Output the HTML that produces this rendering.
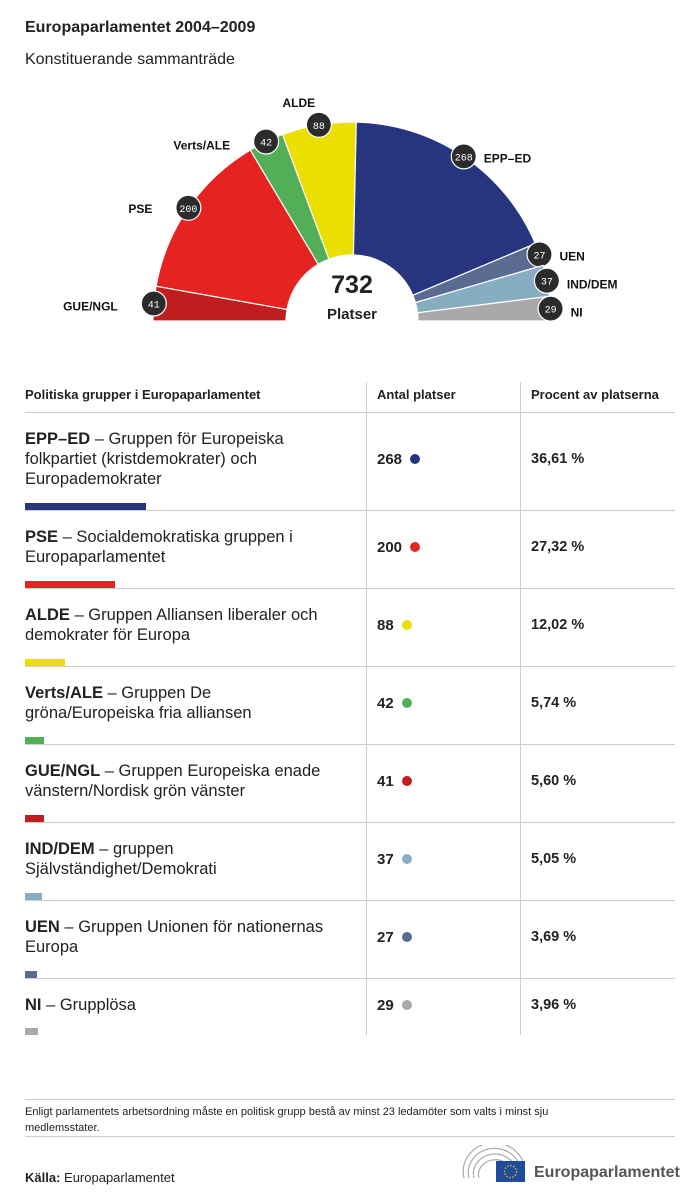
<!DOCTYPE html>
<html><head><meta charset="utf-8"><style>
*{margin:0;padding:0;box-sizing:border-box}
body{width:700px;height:1204px;background:#fff;font-family:"Liberation Sans","DejaVu Sans",sans-serif;color:#222;position:relative;overflow:hidden}
.a{position:absolute}
.row{position:absolute;left:25px;width:650px;border-top:1px solid #ccc}
.nm{position:absolute;left:0;top:16px;width:320px;font-size:16.5px;line-height:20px;color:#222}
.nm b{font-weight:bold}
.bar{position:absolute;left:0;bottom:0;height:7px}
.cnt{position:absolute;left:352px;font-size:15px;font-weight:bold}
.dot{display:inline-block;width:10px;height:10px;border-radius:50%;margin-left:8px;vertical-align:0px}
.pct{position:absolute;left:506px;font-size:14.5px;font-weight:bold}
.vl{position:absolute;top:382px;height:653px;border-left:1px solid #ccc}
</style></head><body>
<div class="a" style="left:25px;top:19px;font-size:16px;font-weight:bold">Europaparlamentet 2004–2009</div>
<div class="a" style="left:25px;top:51px;font-size:16px">Konstituerande sammanträde</div>
<svg class="a" style="left:0;top:80px" width="700" height="270" id="hc"></svg>

<div class="vl" style="left:366px"></div>
<div class="vl" style="left:520px"></div>
<div class="a" style="left:25px;top:387px;font-size:13px;font-weight:bold">Politiska grupper i Europaparlamentet</div>
<div class="a" style="left:377px;top:387px;font-size:13px;font-weight:bold">Antal platser</div>
<div class="a" style="left:531px;top:387px;font-size:13px;font-weight:bold">Procent av platserna</div>
<div id="tbl"></div>

<div class="a" style="left:25px;top:1099px;width:650px;border-top:1px solid #ccc"></div>
<div class="a" style="left:25px;top:1104px;width:600px;font-size:11px;line-height:16px">Enligt parlamentets arbetsordning måste en politisk grupp bestå av minst 23 ledamöter som valts i minst sju medlemsstater.</div>
<div class="a" style="left:25px;top:1136px;width:650px;border-top:1px solid #ccc"></div>
<div class="a" style="left:25px;top:1170px;font-size:13px"><b>Källa:</b> Europaparlamentet</div>
<svg class="a" style="left:460px;top:1145px" width="70" height="40">
<g fill="none" stroke="#aaa" stroke-width="1.2">
<path d="M4 33 A30 28 0 0 1 64 20"/><path d="M9 33 A25 23 0 0 1 60 22"/><path d="M14 33 A20 18 0 0 1 56 24"/><path d="M19 33 A15 13 0 0 1 52 26"/></g>
<rect x="36" y="16" width="29" height="21" fill="#1f4b9a"/><circle cx="50.5" cy="26.5" r="6" fill="none" stroke="#f3d200" stroke-width="1.5" stroke-dasharray="1.2 1.9"/></svg>
<div class="a" style="left:534px;top:1164px;font-size:16px;font-weight:bold;color:#555">Europaparlamentet</div>

<script>
const groups=["GUE/NGL","PSE","Verts/ALE","ALDE","EPP-ED","UEN","IND/DEM","NI"];
const seats=[41,200,42,88,268,27,37,29];
const colors=["#c01d1f","#e52421","#52ae57","#eadf00","#27357e","#5a6b92","#86adc2","#a9a9a9"];
const tblOrder=["EPP-ED","PSE","ALDE","Verts/ALE","GUE/NGL","IND/DEM","UEN","NI"];
const tblPct=["36,61 %","27,32 %","12,02 %","5,74 %","5,60 %","5,05 %","3,69 %","3,96 %"];
const tblDesc=["Gruppen för Europeiska folkpartiet (kristdemokrater) och Europademokrater","Socialdemokratiska gruppen i Europaparlamentet","Gruppen Alliansen liberaler och demokrater för Europa","Gruppen De gröna/Europeiska fria alliansen","Gruppen Europeiska enade vänstern/Nordisk grön vänster","gruppen Självständighet/Demokrati","Gruppen Unionen för nationernas Europa","Grupplösa"];
const rowH=[98,78,78,78,78,78,78,57];
const total=seats.reduce((a,b)=>a+b,0);
const NS="http://www.w3.org/2000/svg";
const svg=document.getElementById('hc');
const cx=352,cy=241,R=199,r=66;
function pt(a,rad){return [cx-rad*Math.cos(a),cy-rad*Math.sin(a)];}
let acc=0;
const labelPos={"GUE/NGL":["end",-36,3],"PSE":["end",-36,1],"Verts/ALE":["end",-36,4],"ALDE":["middle",-20,-22],"EPP-ED":["start",20,2],"UEN":["start",20,2],"IND/DEM":["start",20,4],"NI":["start",20,4]};
groups.forEach((g,i)=>{
  const a0=acc/total*Math.PI;acc+=seats[i];const a1=acc/total*Math.PI;
  const p0=pt(a0,R),p1=pt(a1,R),q1=pt(a1,r),q0=pt(a0,r);
  const p=document.createElementNS(NS,'path');
  p.setAttribute('d',`M${p0} A${R} ${R} 0 0 1 ${p1} L${q1} A${r} ${r} 0 0 0 ${q0}Z`);
  p.setAttribute('fill',colors[i]);p.setAttribute('stroke','#fff');p.setAttribute('stroke-width','1.2');
  
  
  svg.appendChild(p);
  const am=(a0+a1)/2,c=pt(am,R);
  const cc=document.createElementNS(NS,'circle');
  cc.setAttribute('cx',c[0]);cc.setAttribute('cy',c[1]);cc.setAttribute('r',12.5);
  cc.setAttribute('fill','#2b2b2b');cc.setAttribute('stroke','#fff');cc.setAttribute('stroke-width','1.2');
  
  
  svg.appendChild(cc);
  const t=document.createElementNS(NS,'text');
  t.setAttribute('x',c[0]);t.setAttribute('y',c[1]+4);t.setAttribute('text-anchor','middle');
  t.setAttribute('fill','#fff');t.setAttribute('font-size','10');t.setAttribute('font-family','Liberation Mono, monospace');
  t.textContent=seats[i];
  
  
  svg.appendChild(t);
  const lp=labelPos[g];
  const l=document.createElementNS(NS,'text');
  l.setAttribute('x',c[0]+lp[1]);l.setAttribute('y',c[1]+lp[2]+4);l.setAttribute('text-anchor',lp[0]);
  l.setAttribute('font-size','12');l.setAttribute('font-weight','bold');l.setAttribute('fill','#111');
  l.textContent=g.replace('-','–');
  
  
  svg.appendChild(l);
});
const tn=document.createElementNS(NS,'text');
tn.setAttribute('x',cx);tn.setAttribute('y',cy-28);tn.setAttribute('text-anchor','middle');tn.setAttribute('font-size','25');tn.setAttribute('font-weight','bold');tn.setAttribute('fill','#222');tn.textContent=total;


svg.appendChild(tn);
const tp=document.createElementNS(NS,'text');
tp.setAttribute('x',cx);tp.setAttribute('y',cy-2);tp.setAttribute('text-anchor','middle');tp.setAttribute('font-size','15');tp.setAttribute('font-weight','bold');tp.setAttribute('fill','#222');tp.textContent='Platser';


svg.appendChild(tp);

const tbl=document.getElementById('tbl');
let y=412;
tblOrder.forEach((g,k)=>{
  const i=groups.indexOf(g);
  const row=document.createElement('div');row.className='row';
  row.style.top=y+'px';row.style.height=rowH[k]+'px';
  
  
  row.innerHTML=`<div class="nm"><b>${g.replace('-','–')}</b> – ${tblDesc[k]}</div>
  <div class="bar" style="width:${seats[i]*0.452}px;background:${colors[i]}"></div>
  <div class="cnt" style="top:${rowH[k]/2-11}px">${seats[i]}<span class="dot" style="background:${colors[i]}"></span></div>
  <div class="pct" style="top:${rowH[k]/2-11}px">${tblPct[k]}</div>`;
  tbl.appendChild(row);
  y+=rowH[k];
});
</script>
</body></html>
